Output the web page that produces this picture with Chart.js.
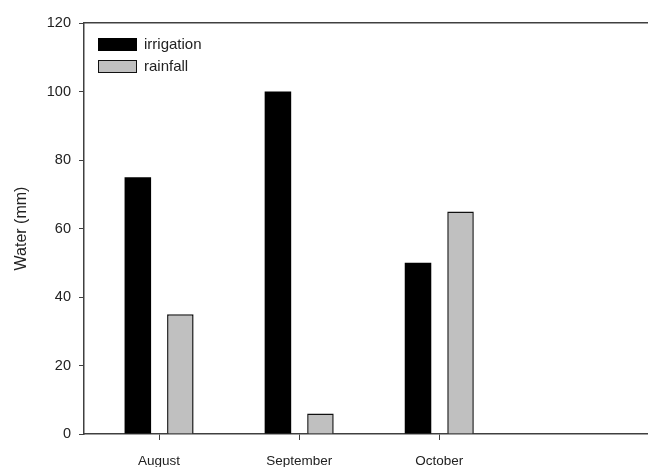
<!DOCTYPE html>
<html>
<head>
<meta charset="utf-8">
<script src="https://cdn.jsdelivr.net/npm/chart.js@4/dist/chart.umd.min.js"></script>
<style>
  html, body { margin: 0; padding: 0; background: #fff; }
  #wrap { width: 648px; height: 467px; }
</style>
</head>
<body>
<div id="wrap"><canvas id="waterChart" width="648" height="467"></canvas></div>
<script>
// months on the x axis, placed at x = 1, 2, 3
const months = ["August", "September", "October"];
const irrigation = [75, 100, 50];
const rainfall = [35, 6, 65];
const yTicks = [0, 20, 40, 60, 80, 100, 120];

const axisColor = "#404040";
const textColor = "#222";
const fontFamily = "'Liberation Sans', Arial, sans-serif";

function toPoints(values) {
    return values.map((v, i) => ({ x: i + 1, y: v }));
}

/* ---------- LEGEND INSIDE PLOT ---------- */
const insideLegend = {
    id: "insideLegend",
    afterDraw(chart) {
        const ctx = chart.ctx;
        const area = chart.chartArea;
        let y = area.top + 15;
        const x = area.left + 14;
        ctx.save();
        ctx.font = "15px " + fontFamily;
        ctx.textBaseline = "middle";
        chart.data.datasets.forEach(ds => {
            ctx.fillStyle = ds.backgroundColor;
            ctx.fillRect(x, y, 39, 13);
            ctx.strokeStyle = ds.borderColor;
            ctx.lineWidth = 1;
            ctx.strokeRect(x + 0.5, y + 0.5, 38, 12);
            ctx.fillStyle = textColor;
            ctx.fillText(ds.label, x + 46, y + 6.5);
            y += 22;
        });
        ctx.restore();
    }
};

/* ---------- CHART ---------- */
const ctx = document.getElementById("waterChart").getContext("2d");

new Chart(ctx, {
    type: "bar",
    data: {
        datasets: [{
            label: "irrigation",
            data: toPoints(irrigation),
            backgroundColor: "#000000",
            borderColor: "#000000",
            borderWidth: 0
        }, {
            label: "rainfall",
            data: toPoints(rainfall),
            backgroundColor: "#c0c0c0",
            borderColor: "#111111",
            borderWidth: 1.5
        }]
    },
    options: {
        responsive: false,
        animation: false,
        categoryPercentage: 0.607,
        barPercentage: 0.624,
        layout: { padding: { top: 23, left: 0, right: 0, bottom: 0 } },
        plugins: {
            legend: { display: false },
            tooltip: { enabled: false }
        },
        scales: {
            x: {
                type: "linear",
                position: "bottom",
                min: 0.464,
                max: 4.49,
                offset: false,
                afterBuildTicks: s => { s.ticks = months.map((m, i) => ({ value: i + 1 })); },
                afterFit: s => { s.height = 33; },
                ticks: {
                    autoSkip: false,
                    maxRotation: 0,
                    padding: 13,
                    color: textColor,
                    font: { family: fontFamily, size: 13.5 },
                    callback: v => months[v - 1] ?? ""
                },
                grid: {
                    offset: false,
                    drawOnChartArea: false,
                    drawTicks: true,
                    tickLength: 6,
                    tickColor: axisColor,
                    tickWidth: 1
                },
                border: { display: true, color: axisColor, width: 1.5 }
            },
            xTop: {
                type: "linear",
                position: "top",
                min: 0,
                max: 1,
                afterFit: s => { s.height = 0; },
                ticks: { display: false },
                grid: { display: false },
                border: { display: true, color: axisColor, width: 1.5 }
            },
            y: {
                min: 0,
                max: 120,
                afterBuildTicks: s => { s.ticks = yTicks.map(v => ({ value: v })); },
                afterFit: s => { s.width = 84; },
                ticks: {
                    padding: 8,
                    color: textColor,
                    font: { family: fontFamily, size: 14.5 }
                },
                grid: {
                    drawOnChartArea: false,
                    drawTicks: true,
                    tickLength: 5,
                    tickColor: axisColor,
                    tickWidth: 1
                },
                border: { display: true, color: axisColor, width: 1.5 },
                title: {
                    display: true,
                    text: "Water (mm)",
                    color: textColor,
                    font: { family: fontFamily, size: 16 },
                    padding: { top: 12, bottom: 0 }
                }
            }
        }
    },
    plugins: [insideLegend]
});
</script>
</body>
</html>
